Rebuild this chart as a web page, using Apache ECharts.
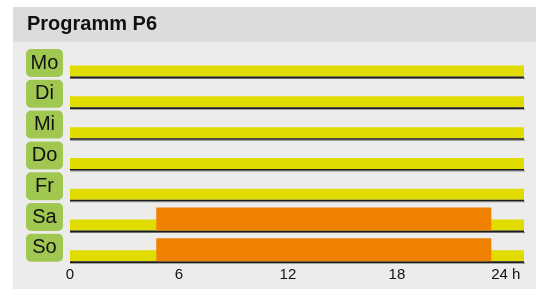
<!DOCTYPE html>
<html>
<head>
<meta charset="utf-8">
<script src="https://cdn.jsdelivr.net/npm/echarts@6/dist/echarts.min.js"></script>
<style>
    html, body { margin: 0; padding: 0; background: #fff; }
    #main { width: 536px; height: 289px; }
</style>
</head>
<body>
<div id="main"></div>
<script>
    // Wochentage
    var days = ['Mo', 'Di', 'Mi', 'Do', 'Fr', 'Sa', 'So'];
    // Grundstufe (gelb), Stunden
    var lowStart = [0, 0, 0, 0, 0, 0, 0];
    var lowEnd = [25, 25, 25, 25, 25, 25, 25];
    // Komfortstufe (orange), nur Sa/So
    var highStart = [null, null, null, null, null, 4.75, 4.75];
    var highEnd = [null, null, null, null, null, 23.2, 23.2];
    // Achsenbeschriftung
    var hourTicks = [0, 6, 12, 18, 24];

    var lowData = [], highData = [];
    for (var i = 0; i < days.length; i++) {
        lowData.push([lowStart[i], lowEnd[i], i]);
        if (highStart[i] != null) {
            highData.push([highStart[i], highEnd[i], i]);
        };
    };

    // Grundlinie jeder Zeile
    function baseY(api, idx) {
        var c = api.coord([0, idx]);
        return c[1] + api.size([0, 1])[1] * 0.44;
    };

    function renderLow(params, api) {
        var idx = api.value(2);
        var p0 = api.coord([api.value(0), idx]);
        var p1 = api.coord([api.value(1), idx]);
        var y = baseY(api, idx);
        return {
            type: 'group',
            children: [{
                type: 'rect',
                shape: { x: p0[0], y: y - 11, width: p1[0] - p0[0], height: 11 },
                style: { fill: '#e0dc00' }
            }, {
                type: 'rect',
                shape: { x: p0[0], y: y + 1.5, width: p1[0] - p0[0] + 1, height: 1 },
                style: { fill: '#8a8a8a' }
            }, {
                type: 'rect',
                shape: { x: p0[0], y: y, width: p1[0] - p0[0], height: 1.6 },
                style: { fill: '#1c1c1c' }
            }]
        };
    };

    function renderHigh(params, api) {
        var idx = api.value(2);
        var p0 = api.coord([api.value(0), idx]);
        var p1 = api.coord([api.value(1), idx]);
        var y = baseY(api, idx);
        return {
            type: 'rect',
            shape: { x: p0[0], y: y - 23, width: p1[0] - p0[0], height: 23 },
            style: { fill: '#f08000' }
        };
    };

    var myChart = echarts.init(document.getElementById('main'));
    var option = {
        animation: false,
        backgroundColor: '#ffffff',
        graphic: [{
            type: 'rect', z: -10, silent: true,
            shape: { x: 13, y: 7, width: 523, height: 35 },
            style: { fill: '#dcdcdc' }
        }, {
            type: 'rect', z: -10, silent: true,
            shape: { x: 13, y: 42, width: 523, height: 247 },
            style: { fill: '#ececec' }
        }],
        title: {
            text: 'Programm P6',
            left: 27,
            top: 14,
            padding: 0,
            textStyle: {
                fontFamily: 'Liberation Sans',
                fontWeight: 'bold',
                fontSize: 20,
                color: '#111'
            }
        },
        grid: {
            left: 70,
            right: 12,
            top: 47.6,
            bottom: 25.8
        },
        xAxis: {
            type: 'value',
            min: 0,
            max: 25,
            interval: 6,
            axisLine: { show: false },
            axisTick: { show: false },
            splitLine: { show: false },
            axisLabel: {
                margin: 4,
                showMaxLabel: false,
                fontFamily: 'Liberation Sans',
                fontSize: 15,
                color: '#111',
                formatter: function (v) {
                    if (hourTicks.indexOf(v) < 0) return '';
                    return v == 24 ? '24 h' : String(v);
                }
            }
        },
        yAxis: {
            type: 'category',
            data: days,
            inverse: true,
            axisLine: { show: false },
            axisTick: { show: false },
            splitLine: { show: false },
            axisLabel: {
                margin: 7,
                formatter: function (v) {
                    return '{d|' + v + '}';
                },
                rich: {
                    d: {
                        width: 37,
                        height: 28,
                        lineHeight: 28,
                        align: 'center',
                        verticalAlign: 'middle',
                        backgroundColor: '#a0c850',
                        borderRadius: 5,
                        fontFamily: 'Liberation Sans',
                        fontSize: 20,
                        color: '#111'
                    }
                }
            }
        },
        series: [{
            type: 'custom',
            renderItem: renderLow,
            encode: { x: [0, 1], y: 2 },
            data: lowData
        }, {
            type: 'custom',
            renderItem: renderHigh,
            encode: { x: [0, 1], y: 2 },
            data: highData
        }]
    };
    myChart.setOption(option);
</script>
</body>
</html>
